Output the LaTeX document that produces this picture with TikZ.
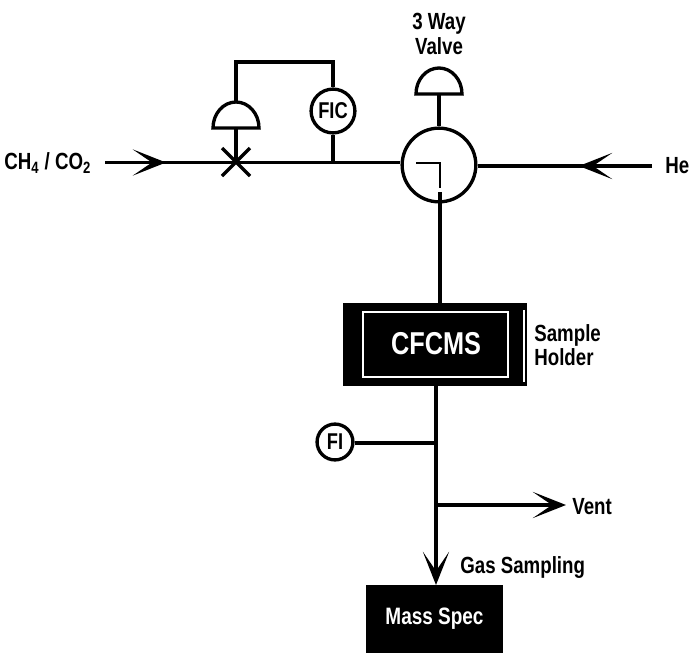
\documentclass[tikz,border=0pt]{standalone}
\usepackage{fontspec}
\setmainfont[FakeStretch=0.8]{Liberation Sans}
\usetikzlibrary{arrows.meta}
\tikzset{
  pipe/.style={line width=1.9pt},
  flow/.style={pipe,-{Stealth[length=19pt,width=15pt,inset=11pt,line width=1pt]}},
  ring/.style={draw,circle,line width=1.9pt,inner sep=0pt,font=\bfseries\fontsize{13}{15}\selectfont},
  lab/.style={font=\bfseries\fontsize{13.3}{15}\selectfont,inner sep=0pt,align=left},
  blackbox/.style={fill=black,text=white,inner sep=0pt,font=\bfseries\fontsize{13.5}{15}\selectfont},
  dome/.pic={\draw[pipe,join=miter] (-23,0) arc (180:360:23 and 26) -- cycle;}
}
\begin{document}
\begin{tikzpicture}[x=0.02cm,y=-0.02cm]
\useasboundingbox (0,0) rectangle (691,653);
% labels
\node[lab,anchor=west] (feed) at (4,163) {CH\textsubscript{4} / CO\textsubscript{2}};
\node[lab,anchor=west] (he) at (665,166) {He};
\node[lab,align=center] (waylab) at (439,34) {3 Way\\[-1pt]Valve};
\node[lab,anchor=west] (holderlab) at (534,345) {Sample\\[-1pt]Holder};
\node[lab,anchor=west] (vent) at (572,507) {Vent};
\node[lab,anchor=west] (gaslab) at (460,568) {Gas Sampling};
% instruments
\node[ring,minimum size=44pt*0.567] (fic) at (333,111) {FIC};
\node[ring,minimum size=36pt*0.567] (fi) at (335,442) {FI};
\node[draw,circle,pipe,minimum size=74*0.567pt,inner sep=0pt] (way) at (439,165) {};
% black boxes
\node[blackbox,minimum width=184*0.567pt,minimum height=83*0.567pt] (holder) at (435,344.5) {};
\draw[white,line width=0.8pt] (363,312) rectangle (508,377);
\draw[white,line width=0.8pt] (524,310) -- (524,382);
\node[text=white,lab,font=\bfseries\fontsize{18}{20}\selectfont] (cfcms) at (436,344) {CFCMS};
\node[blackbox,minimum width=137*0.567pt,minimum height=68*0.567pt] (spec) at (434.5,619) {Mass Spec};
% domes
\coordinate (xv) at (236,162.5);
\coordinate (domea) at (236,128);
\coordinate (domeatop) at (236,102);
\coordinate (domeb) at (439,94);
\pic at (domea) {dome};
\pic at (domeb) {dome};
% junctions
\coordinate (tap) at (333,162.5);
\coordinate (fijoin) at (436,443);
\coordinate (ventjoin) at (436,505);
\coordinate (feedhead) at (166,162.5);
\coordinate (feedtail) at (155,162.5);
\coordinate (hehead) at (579,166);
\coordinate (hetail) at (590,166);
\coordinate (venttip) at (566,505);
\coordinate (bend) at (236,62);
\coordinate (benda) at (333,62);
% feed line
\draw[flow] (105,162.5) -- (feedhead);
\draw[pipe] (feedtail) -- (xv);
\draw[pipe] (xv) -- (tap) -- (way.west |- tap);
\draw[line width=2pt] (222,148) -- (250,176) (250,148) -- (222,176);
\draw[pipe] (xv) -- (domea);
\draw[pipe] (domeatop) -- (bend) -- (benda) -- (fic.north);
\draw[pipe] (fic.south) -- (tap);
% three way valve
\draw[pipe] (domeb) -- (way.north);
\draw[line width=1.1pt] (416,163) -- (440,163) -- (440,188);
\draw[pipe] (440,192) -- (440,303);
\draw[flow] (652,166) -- (hehead);
\draw[pipe] (hetail) -- (way.east |- hetail);
% down to the mass spec
\draw[pipe] (436,386) -- (fijoin);
\draw[pipe] (fi.east |- fijoin) -- (fijoin);
\draw[pipe] (fijoin) -- (ventjoin);
\draw[flow] (ventjoin) -- (venttip);
\draw[flow] (ventjoin) -- (436,585);
\end{tikzpicture}
\end{document}
